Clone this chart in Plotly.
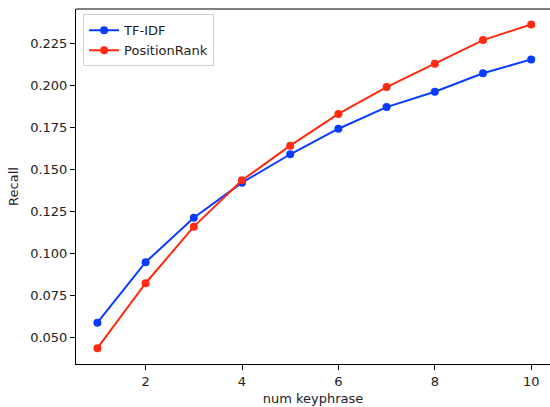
import plotly.graph_objects as go

num_keyphrase = [1, 2, 3, 4, 5, 6, 7, 8, 9, 10]
tfidf_recall = [0.0589, 0.0949, 0.1214, 0.1423, 0.1592, 0.1744, 0.1873, 0.1964, 0.2074, 0.2157]
positionrank_recall = [0.0437, 0.0824, 0.1161, 0.1437, 0.1643, 0.1832, 0.1992, 0.2131, 0.2272, 0.2365]
y_ticks = [0.050, 0.075, 0.100, 0.125, 0.150, 0.175, 0.200, 0.225]
x_ticks = [2, 4, 6, 8, 10]

BLUE = "#0a3cff"
RED = "#ff2a0f"
FONT = "DejaVu Sans"

fig = go.Figure()
fig.add_trace(go.Scatter(x=num_keyphrase, y=tfidf_recall, mode="lines+markers", name="TF-IDF",
                         line=dict(color=BLUE, width=2), marker=dict(size=8, color=BLUE)))
fig.add_trace(go.Scatter(x=num_keyphrase, y=positionrank_recall, mode="lines+markers", name="PositionRank",
                         line=dict(color=RED, width=2), marker=dict(size=8, color=RED)))

fig.add_shape(type="line", xref="paper", yref="paper", x0=0, x1=1.01, y0=1, y1=1,
              line=dict(color="black", width=1), layer="above")

fig.update_layout(
    width=550, height=407,
    margin=dict(l=76, r=0, t=9, b=43),
    plot_bgcolor="white", paper_bgcolor="white",
    font=dict(family=FONT, size=13, color="#222"),
    showlegend=True,
    legend=dict(x=0.015, y=0.985, xanchor="left", yanchor="top",
                bgcolor="rgba(255,255,255,0.8)", bordercolor="#d0d0d0", borderwidth=1,
                font=dict(family=FONT, size=13, color="#222"), tracegroupgap=0),
    xaxis=dict(range=[0.556, 10.39], tickvals=x_ticks, ticks="outside", ticklen=5, tickcolor="black",
               showline=True, linecolor="black", linewidth=1, showgrid=False, zeroline=False,
               title=dict(text="num keyphrase", font=dict(family=FONT, size=13, color="#222"), standoff=6)),
    yaxis=dict(range=[0.0343, 0.2457], tickvals=y_ticks, tickformat=".3f", ticks="outside", ticklen=5,
               tickcolor="black", showline=True, linecolor="black", linewidth=1, showgrid=False, zeroline=False,
               title=dict(text="Recall", font=dict(family=FONT, size=13, color="#222"), standoff=8)),
)

fig.write_html("out.html")
